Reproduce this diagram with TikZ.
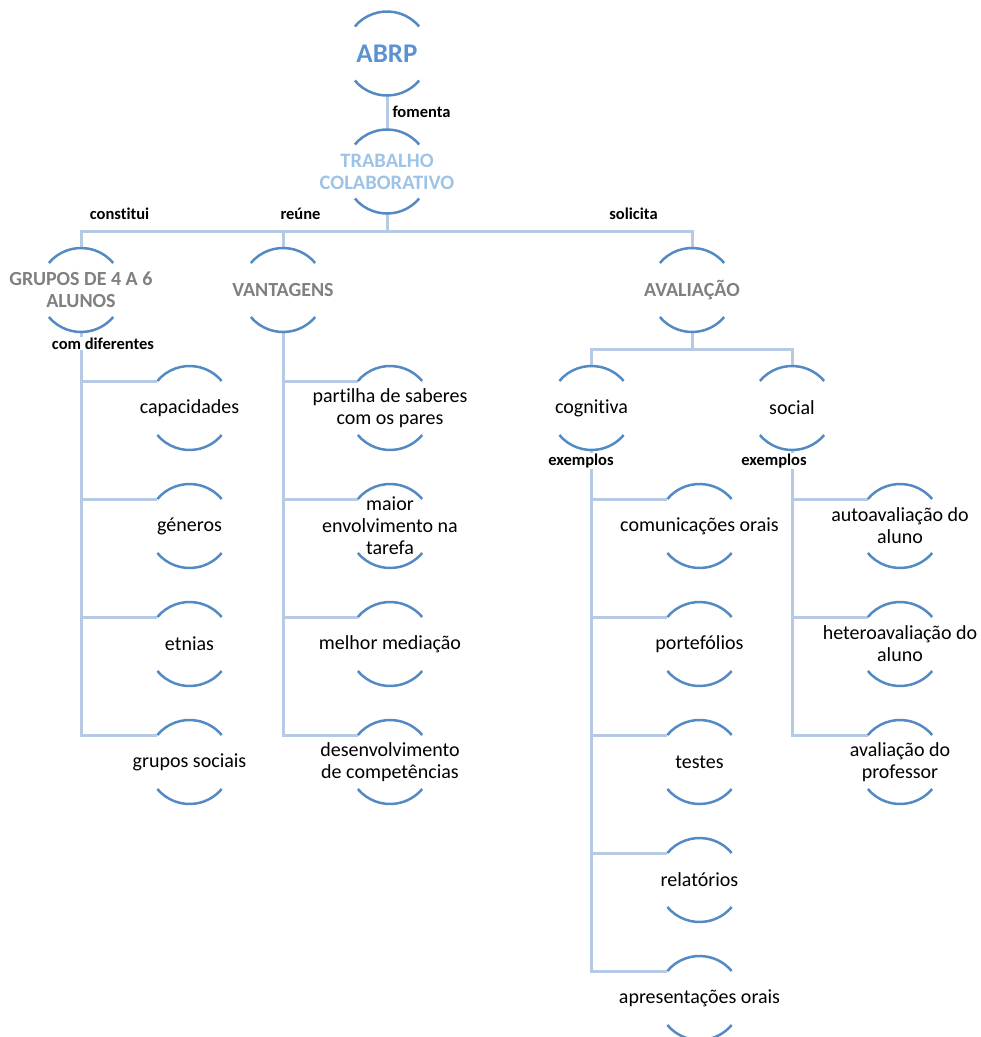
\documentclass[tikz,border=0pt]{standalone}
\usepackage{fontspec}
\setmainfont{Carlito}[Ligatures=NoCommon]
\definecolor{arcblue}{RGB}{84,138,196}
\definecolor{linkblue}{RGB}{182,202,230}
\definecolor{titlegray}{RGB}{128,128,128}
\definecolor{abrpblue}{RGB}{91,146,210}
\definecolor{trabblue}{RGB}{157,195,230}
\tikzset{
  ring/.style={circle, minimum size=84pt, inner sep=0pt, outer sep=0pt},
  arcline/.style={draw=arcblue, line width=2.5pt},
  conn/.style={draw=linkblue, line width=3pt},
  bodytxt/.style={align=center, font=\fontsize{20}{22}\selectfont, text=black, inner sep=0pt},
  titletxt/.style={align=center, font=\fontsize{20}{22}\selectfont\bfseries, text=titlegray, inner sep=0pt},
  reltxt/.style={font=\fontsize{16.5}{18}\selectfont\bfseries, text=black, fill=white, inner sep=1pt},
}
\newcommand\rnode[5]{\node[ring] (#1) at (#2,#3) {}; \node[#4] (#1-t) at (#1.center) {#5};}
\newcommand\ringarcs[1]{%
  \draw[arcline] (#1.140) arc[start angle=140, end angle=40, radius=42pt];
  \draw[arcline] (#1.220) arc[start angle=220, end angle=320, radius=42pt];}
\begin{document}
\begin{tikzpicture}[x=1pt,y=1pt]
\useasboundingbox (0,0) rectangle (981,-1037);
% nodes
\rnode{abrp}{387}{-53.5}{bodytxt, font=\fontsize{27}{30}\selectfont\bfseries, text=abrpblue}{ABRP}
\rnode{trab}{387}{-171.5}{bodytxt, font=\fontsize{20.5}{22}\selectfont\bfseries, text=trabblue}{TRABALHO\\COLABORATIVO}
\rnode{grupos}{81}{-290}{titletxt}{GRUPOS DE 4 A 6\\ALUNOS}
\rnode{vant}{283}{-290}{titletxt}{VANTAGENS}
\rnode{aval}{692}{-290}{titletxt}{AVALIAÇÃO}
\rnode{cap}{189.5}{-408}{bodytxt}{capacidades}
\rnode{gen}{189.5}{-526}{bodytxt}{géneros}
\rnode{etn}{189.5}{-644}{bodytxt}{etnias}
\rnode{gsoc}{189.5}{-762}{bodytxt}{grupos sociais}
\rnode{part}{390}{-408}{bodytxt}{partilha de saberes\\com os pares}
\rnode{maior}{390}{-526}{bodytxt}{maior\\envolvimento na\\tarefa}
\rnode{melh}{390}{-644}{bodytxt}{melhor mediação}
\rnode{desenv}{390}{-762}{bodytxt}{desenvolvimento\\de competências}
\rnode{cog}{591.5}{-408}{bodytxt}{cognitiva}
\rnode{soc}{792}{-408}{bodytxt}{social}
\rnode{com}{699.5}{-526}{bodytxt}{comunicações orais}
\rnode{port}{699.5}{-644}{bodytxt}{portefólios}
\rnode{test}{699.5}{-762}{bodytxt}{testes}
\rnode{rel}{699.5}{-880}{bodytxt}{relatórios}
\rnode{apr}{699.5}{-998}{bodytxt}{apresentações orais}
\rnode{auto}{900}{-526}{bodytxt}{autoavaliação do\\aluno}
\rnode{het}{900}{-644}{bodytxt}{heteroavaliação do\\aluno}
\rnode{prof}{900}{-762}{bodytxt}{avaliação do\\professor}
% connectors
\coordinate (bus) at (387,-231.5);
\coordinate (avbus) at (692,-349);
\draw[conn] (abrp.south) -- (trab.north);
\draw[conn] (trab.south) -- (bus);
\draw[conn] (bus) -| (grupos.north);
\draw[conn] (bus) -| (vant.north);
\draw[conn] (bus) -| (aval.north);
\draw[conn] (aval.south) -- (avbus);
\draw[conn] (avbus) -| (cog.north);
\draw[conn] (avbus) -| (soc.north);
\foreach \k in {cap,gen,etn,gsoc} {\draw[conn] (grupos.south) |- (\k.140);}
\foreach \k in {part,maior,melh,desenv} {\draw[conn] (vant.south) |- (\k.140);}
\foreach \k in {com,port,test,rel,apr} {\draw[conn] (cog.south) |- (\k.140);}
\foreach \k in {auto,het,prof} {\draw[conn] (soc.south) |- (\k.140);}
% arcs
\foreach \n in {abrp,trab,grupos,vant,aval,cap,gen,etn,gsoc,part,maior,melh,desenv,cog,soc,com,port,test,rel,apr,auto,het,prof} {\ringarcs{\n}}
% relation labels
\node[reltxt, fill=none] (lfom) at (421.5,-111.5) {fomenta};
\node[reltxt, fill=none] (lcons) at (119.5,-214) {constitui};
\node[reltxt, fill=none] (lreu) at (300.5,-214) {reúne};
\node[reltxt, fill=none] (lsol) at (633.5,-214) {solicita};
\node[reltxt] (lcom) at (103,-343.5) {com diferentes};
\node[reltxt] (lex1) at (581,-461) {exemplos};
\node[reltxt] (lex2) at (774,-461) {exemplos};
\end{tikzpicture}
\end{document}
